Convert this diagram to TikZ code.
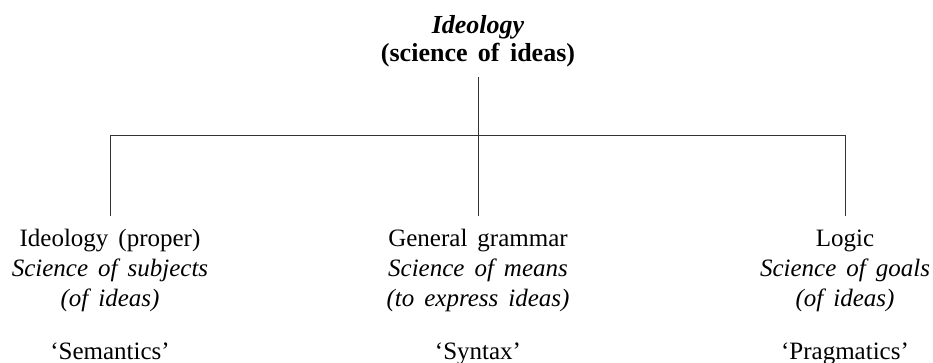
\documentclass[tikz,border=0pt]{standalone}
\usepackage{fontspec}
\setmainfont{Liberation Serif}[WordSpace=1.6]
\begin{document}
\begin{tikzpicture}[x=0.5pt,y=-0.5pt,
  conn/.style={draw=black!80,line width=0.5pt},
  blk/.style={align=center,anchor=north,inner xsep=0pt,inner ysep=6.5pt,
    font=\fontsize{12.5}{15}\selectfont},
  ttl/.style={align=center,anchor=south,inner xsep=0pt,inner ysep=5pt,
    font=\fontsize{13}{14}\selectfont\bfseries}]
\useasboundingbox (0,0) rectangle (933,363);
\node[ttl] (top) at (478,77) {\textit{Ideology}\\(science of ideas)};
\node[blk] (lb) at (110,216) {\vphantom{(}Ideology (proper)\\\textit{Science of subjects}\\\textit{(of ideas)}\\[11.5pt]`Semantics'};
\node[blk] (mb) at (478,216) {\vphantom{(}General grammar\\\textit{Science of means}\\\textit{(to express ideas)}\\[11.5pt]`Syntax'};
\node[blk] (rb) at (845,216) {\vphantom{(}Logic\\\textit{Science of goals}\\\textit{(of ideas)}\\[11.5pt]`Pragmatics'};
\coordinate (jl) at (110,136);
\coordinate (jr) at (845,136);
\draw[conn] (top.south) -- (mb.north);
\draw[conn] (lb.north) -- (jl) -- (jr) -- (rb.north);
\end{tikzpicture}
\end{document}
